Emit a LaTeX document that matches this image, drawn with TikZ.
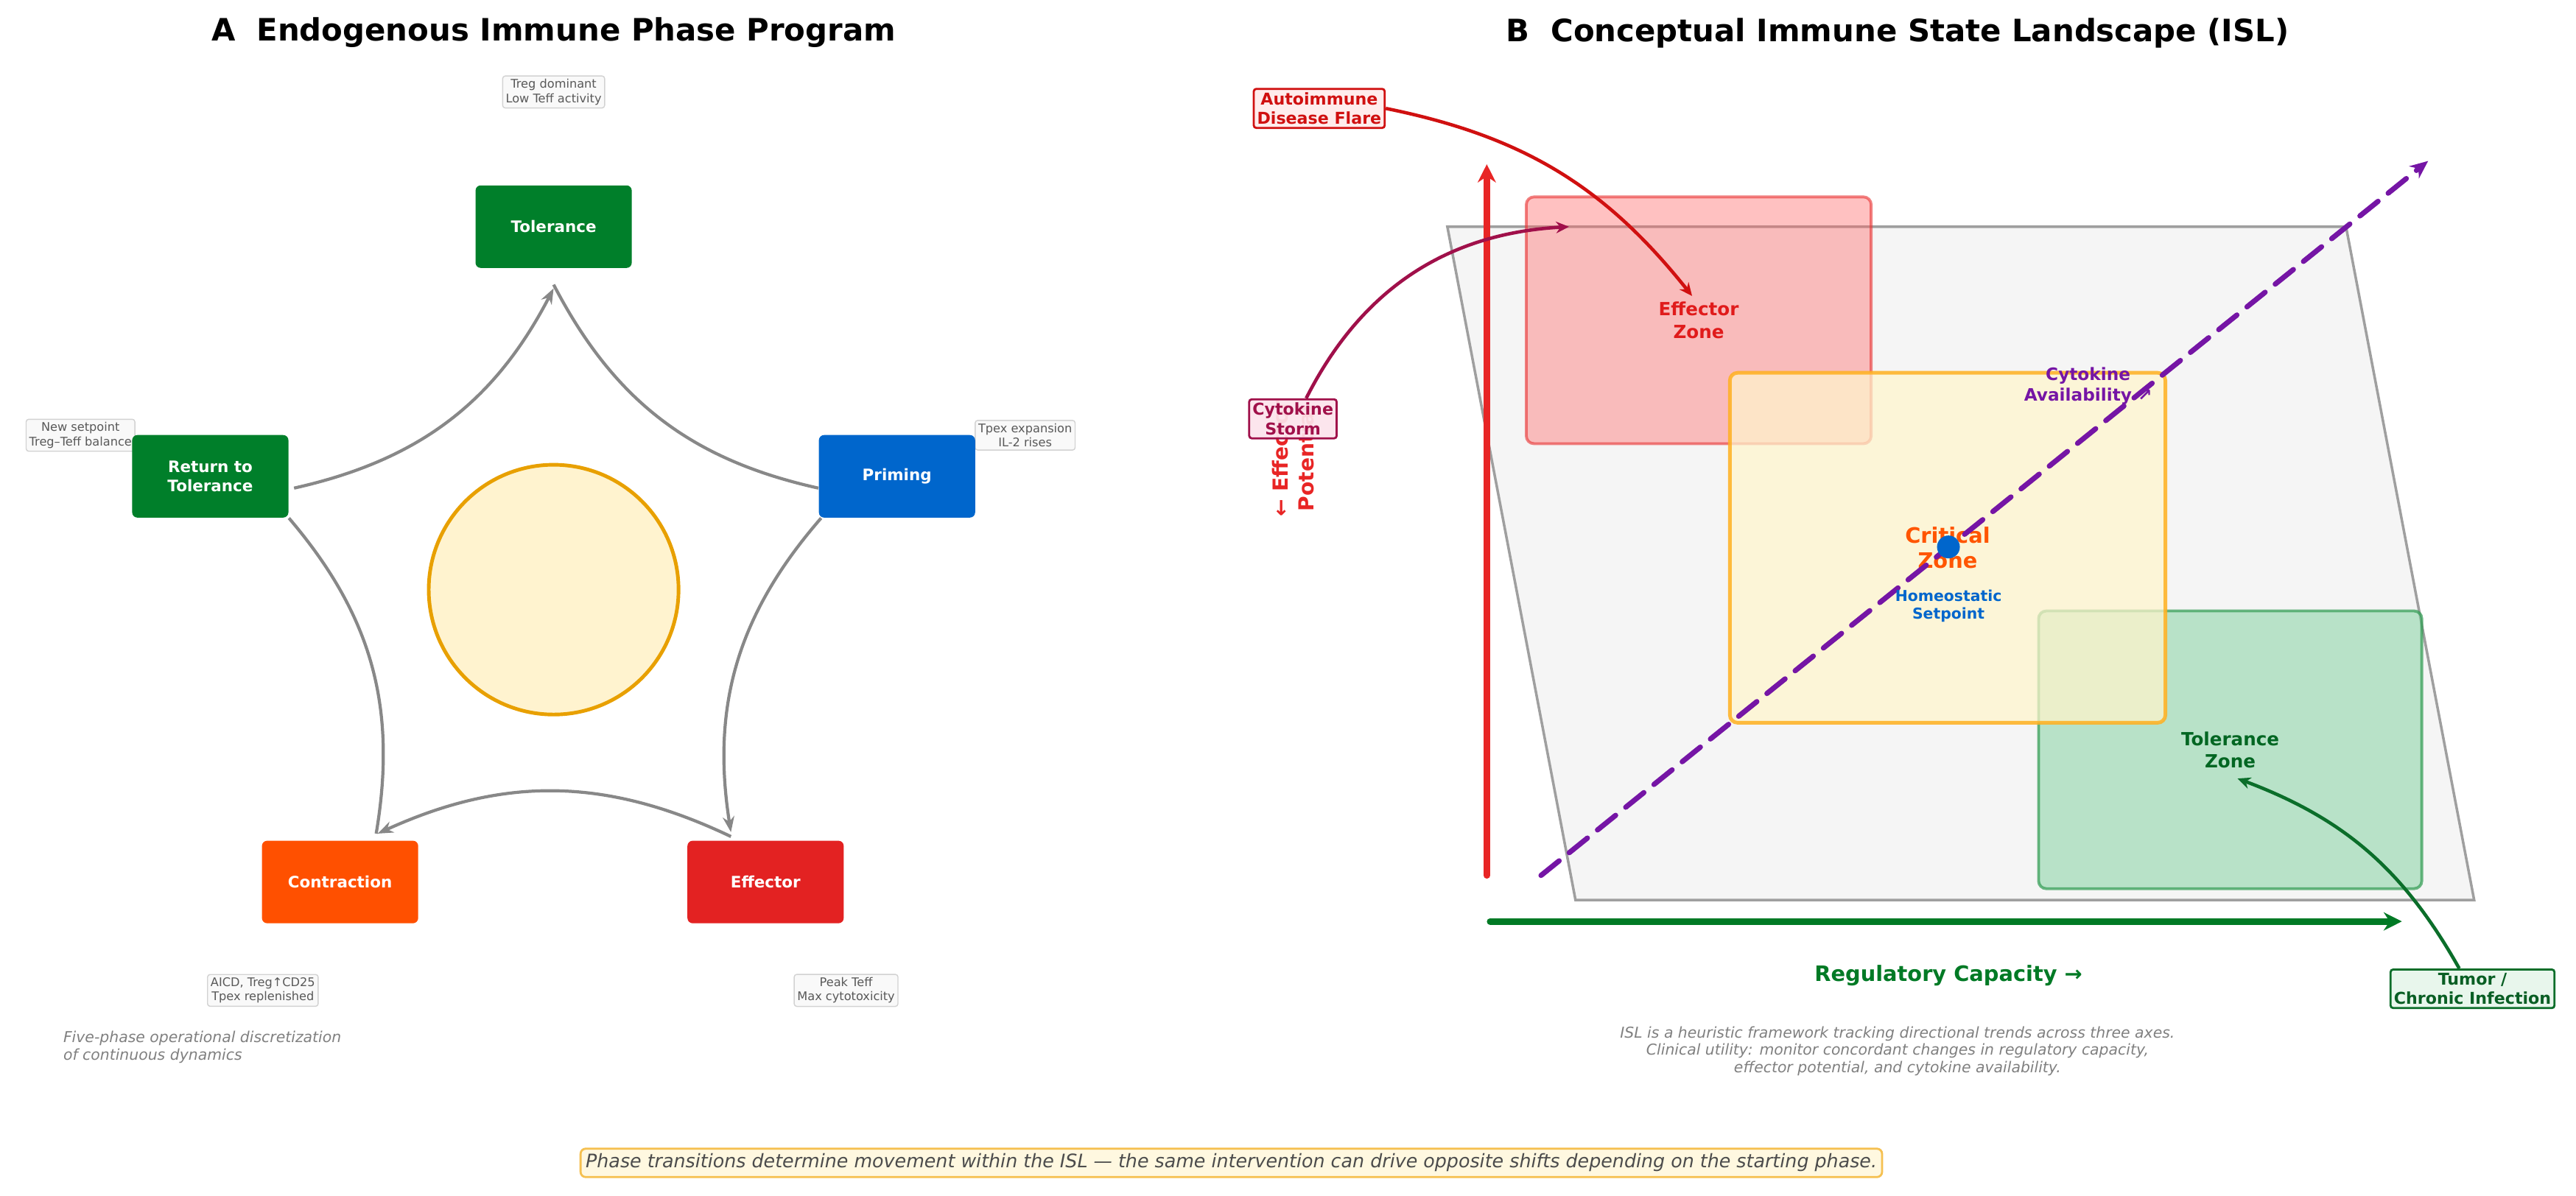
\documentclass[tikz,border=0pt]{standalone}
\usepackage{fontspec}
\setmainfont{DejaVu Sans}
\usetikzlibrary{arrows.meta,positioning}
\usepackage{xcolor}

\definecolor{tolgreen}{HTML}{007F2A}
\definecolor{primblue}{HTML}{0066CC}
\definecolor{effred}{HTML}{E32222}
\definecolor{conorange}{HTML}{FF5000}
\definecolor{arrowgray}{HTML}{888888}
\definecolor{corefill}{HTML}{FFF3CF}
\definecolor{coreline}{HTML}{E8A000}
\definecolor{axisred}{HTML}{E82525}
\definecolor{axisgreen}{HTML}{007A25}
\definecolor{axispurple}{HTML}{7515A5}
\definecolor{effzfill}{HTML}{FF6464}
\definecolor{effzline}{HTML}{E83030}
\definecolor{effzlabel}{HTML}{E01B1B}
\definecolor{critfill}{HTML}{FFF5CC}
\definecolor{critline}{HTML}{FFB020}
\definecolor{critlabel}{HTML}{FF5500}
\definecolor{tolzfill}{HTML}{82D2A0}
\definecolor{tolzline}{HTML}{2E9A50}
\definecolor{tolzlabel}{HTML}{006622}
\definecolor{stormline}{HTML}{A0104A}
\definecolor{stormfill}{HTML}{FCE4EC}
\definecolor{autofill}{HTML}{FFECEC}
\definecolor{autotext}{HTML}{D01010}
\definecolor{tumorfill}{HTML}{E8F6EC}
\definecolor{tumorline}{HTML}{0B6E2A}
\definecolor{capfill}{HTML}{FFF8E0}
\definecolor{capline}{HTML}{F5C050}

\begin{document}
\begin{tikzpicture}[
				x=0.0223cm,y=-0.0223cm,
				title/.style={font=\fontsize{11.9}{14}\selectfont\bfseries},
				phase/.style={rectangle,rounded corners=2pt,minimum width=2.12cm,minimum height=1.12cm,text=white,align=center,font=\fontsize{6.1}{7.6}\selectfont\bfseries},
				note/.style={draw=gray!35,fill=gray!5,rounded corners=1pt,inner sep=1.2pt,align=center,text=black!65,font=\fontsize{4.6}{5.5}\selectfont},
				remark/.style={text=black!50,align=center,font=\fontsize{5.8}{6.8}\selectfont\itshape},
				cycle/.style={draw=arrowgray,line width=1.2pt},
				zone/.style={rectangle,rounded corners=3pt,line width=1.1pt,text opacity=1,align=center,font=\fontsize{7}{8.6}\selectfont\bfseries},
				callout/.style={rectangle,rounded corners=1pt,line width=0.8pt,inner sep=1.3pt,align=center,font=\fontsize{6.3}{7.6}\selectfont\bfseries},
				axis/.style={line width=2.5pt,line cap=round,-{Stealth[length=7pt,width=7pt]}},
				pointer/.style={line width=1.3pt,-{Stealth[length=5pt,width=4.5pt]}}
				]
				
				\fill[white] (0,0) rectangle (1568,728);
				\useasboundingbox (0,0) rectangle (1568,728);
				
				% panel A
				\node[title] (titleA) at (337,20) {A\ \ Endogenous Immune Phase Program};
				
				\node[note] (nTol) at (337,56) {Treg dominant\\Low Teff activity};
				\node[note] (nPri) at (624,265) {Tpex expansion\\IL-2 rises};
				\node[note] (nRet) at (49,265) {New setpoint\\Treg–Teff balance};
				\node[note] (nCon) at (160,603) {AICD, Treg↑CD25\\Tpex replenished};
				\node[note] (nEff) at (515,603) {Peak Teff\\Max cytotoxicity};
				
				\node[phase,fill=tolgreen] (tol) at (337,138) {Tolerance};
				\node[phase,fill=primblue] (pri) at (546,290) {Priming};
				\node[phase,fill=effred] (eff) at (466,537) {Effector};
				\node[phase,fill=conorange] (con) at (207,537) {Contraction};
				\node[phase,fill=tolgreen] (ret) at (128,290) {Return to\\Tolerance};
				
				\node[circle,draw=coreline,fill=corefill,line width=1.4pt,minimum size=3.39cm] (core) at (337,359) {};
				
				\draw[cycle,-{Stealth[length=6pt,width=4.5pt]}] ([xshift=0.07cm,yshift=-0.16cm]ret.east) to[bend right=25] ([yshift=-0.27cm]tol.south);
				\draw[cycle] ([yshift=-0.22cm]tol.south) to[bend right=25] ([yshift=-0.16cm]pri.west);
				\draw[cycle,-{Stealth[length=6pt,width=4.5pt]}] ([xshift=-1.03cm]pri.south) to[bend right=25] ([xshift=-0.47cm,yshift=0.11cm]eff.north);
				\draw[cycle,-{Stealth[length=6pt,width=4.5pt]}] ([xshift=-0.47cm,yshift=0.05cm]eff.north) to[bend right=25] ([xshift=0.51cm,yshift=0.09cm]con.north);
				\draw[cycle] ([xshift=0.49cm,yshift=0.09cm]con.north) to[bend right=25] (ret.south east);
				
				\node[remark,align=left,anchor=north west] (five) at (33,622) {Five-phase operational discretization\\of continuous dynamics};
				
				% panel B
				\node[title] (titleB) at (1155,20) {B\ \ Conceptual Immune State Landscape (ISL)};
				
				\draw[fill=gray!8,draw=gray!75,line width=1pt] (881,138) -- (1428,138) -- (1506,548) -- (959,548) -- cycle;
				
				\node[zone,fill=effzfill,fill opacity=0.4,draw=effzline,draw opacity=0.6,text=effzlabel,minimum width=4.68cm,minimum height=3.35cm] (effz) at (1034,195) {Effector\\Zone};
				\node[zone,fill=tolzfill,fill opacity=0.53,draw=tolzline,draw opacity=0.7,text=tolzlabel,minimum width=5.2cm,minimum height=3.77cm] (tolz) at (1357.5,456.5) {Tolerance\\Zone};
				\node[zone,fill=critfill,fill opacity=0.72,draw=critline,draw opacity=0.85,line width=1.4pt,text=critlabel,minimum width=5.91cm,minimum height=4.75cm,font=\fontsize{8.2}{9.6}\selectfont\bfseries] (critz) at (1185.5,333.5) {Critical\\Zone};
				
				\coordinate (yFrom) at (905,533);
				\coordinate (yTo) at (905,100);
				\coordinate (xFrom) at (907,561);
				\coordinate (xTo) at (1462,561);
				\coordinate (cFrom) at (938,533);
				\coordinate (cTo) at (1478,98);
				
				\draw[axis,axisred] (yFrom) -- (yTo);
				\draw[axis,axisgreen] (xFrom) -- (xTo);
				
				\node[text=axispurple,align=center,font=\fontsize{6.6}{8}\selectfont\bfseries] (cytlab) at (1271,235) {Cytokine\\Availability ↗};
				\draw[axispurple,line width=2pt,line cap=round,dash pattern=on 9pt off 5pt,-{Stealth[length=7pt,width=6pt]}] (cFrom) -- (cTo);
				
				\node[circle,fill=primblue,minimum size=0.31cm,inner sep=0pt] (set) at (1186,333) {};
				\node[text=primblue,align=center,font=\fontsize{5.8}{7}\selectfont\bfseries] (setlab) at (1186,369) {Homeostatic\\Setpoint};
				
				\node[text=axisgreen,font=\fontsize{8.2}{10}\selectfont\bfseries] (xlab) at (1186,594) {Regulatory Capacity →};
				\node[rotate=90,text=axisred,align=center,font=\fontsize{8}{10}\selectfont\bfseries] (ylab) at (787,279) {← Effector\\Potential};
				
				\node[callout,draw=stormline,fill=stormfill,fill opacity=0.93,text opacity=1,text=stormline] (storm) at (787,255) {Cytokine\\Storm};
				\node[callout,draw=autotext,fill=autofill,text=autotext] (auto) at (803,66) {Autoimmune\\Disease Flare};
				\node[callout,draw=tumorline,fill=tumorfill,text=tumorline!85!black] (tumor) at (1505,602) {Tumor /\\Chronic Infection};
				
				\draw[pointer,autotext] (auto.east) to[bend left=20] ([xshift=-0.09cm,yshift=0.33cm]effz.center);
				\draw[pointer,stormline] ([xshift=0.18cm]storm.north) to[bend left=30] ([xshift=-1.76cm,yshift=1.27cm]effz.center);
				\draw[pointer,tumorline] ([xshift=-0.18cm]tumor.north) to[bend right=20] ([xshift=0.1cm,yshift=-0.39cm]tolz.center);
				
				\node[remark] (islnote) at (1155,640) {ISL is a heuristic framework tracking directional trends across three axes.\\Clinical utility: monitor concordant changes in regulatory capacity,\\effector potential, and cytokine availability.};
				
				% shared caption
				\node[draw=capline,fill=capfill,line width=0.8pt,rounded corners=2pt,inner sep=2pt,text=black!70,font=\fontsize{7.2}{9}\selectfont\itshape] (caption) at (749.5,708) {Phase transitions determine movement within the ISL — the same intervention can drive opposite shifts depending on the starting phase.};
				
			\end{tikzpicture}
\end{document}
